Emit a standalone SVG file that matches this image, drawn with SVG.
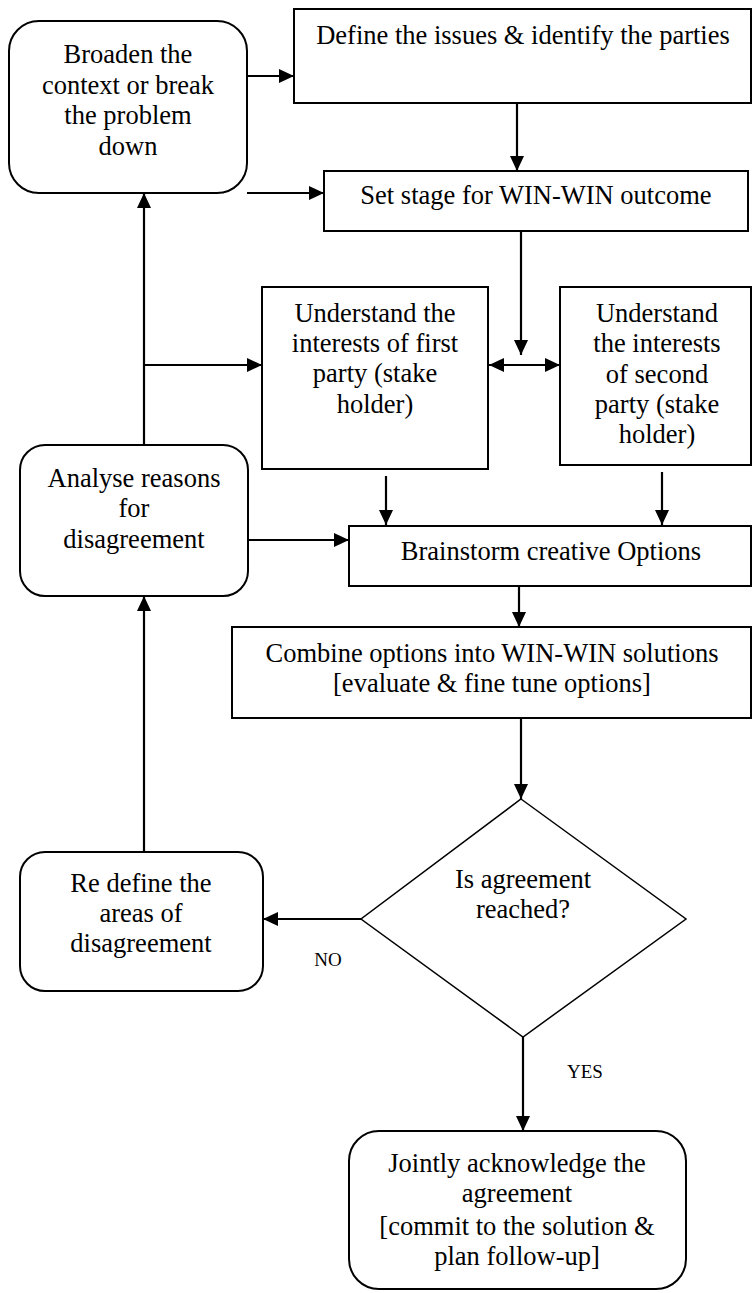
<svg xmlns="http://www.w3.org/2000/svg" width="753" height="1293" viewBox="0 0 753 1293">
<style>
.box{fill:#fff;stroke:#000;stroke-width:2}
.dia{fill:#fff;stroke:#000;stroke-width:1.5}
.t{font-family:"Liberation Serif","Times New Roman",serif;font-size:26.5px;fill:#000;text-anchor:middle}
.lbl{font-family:"Liberation Serif","Times New Roman",serif;font-size:19px;fill:#000;text-anchor:middle}
.c{fill:none;stroke:#000;stroke-width:2.2}
</style>
<defs>
<marker id="ah" markerUnits="userSpaceOnUse" markerWidth="15" markerHeight="14" refX="15" refY="7" orient="auto-start-reverse">
<path d="M0,0 L15,7 L0,14 z" fill="#000"/>
</marker>
</defs>
<rect width="753" height="1293" fill="#fff"/>
<g id="connectors">
<line class="c" x1="247" y1="76" x2="294" y2="76" marker-end="url(#ah)"/>
<line class="c" x1="247" y1="193" x2="324" y2="193" marker-end="url(#ah)"/>
<line class="c" x1="517" y1="103" x2="517" y2="171" marker-end="url(#ah)"/>
<line class="c" x1="521" y1="231" x2="521" y2="355" marker-end="url(#ah)"/>
<line class="c" x1="489" y1="365" x2="560" y2="365" marker-start="url(#ah)" marker-end="url(#ah)"/>
<line class="c" x1="144" y1="445" x2="144" y2="193" marker-end="url(#ah)"/>
<line class="c" x1="144" y1="365" x2="262" y2="365" marker-end="url(#ah)"/>
<line class="c" x1="386" y1="476" x2="386" y2="525" marker-end="url(#ah)"/>
<line class="c" x1="662" y1="472" x2="662" y2="525" marker-end="url(#ah)"/>
<line class="c" x1="248" y1="540" x2="349" y2="540" marker-end="url(#ah)"/>
<line class="c" x1="519" y1="587" x2="519" y2="627" marker-end="url(#ah)"/>
<line class="c" x1="521" y1="718" x2="521" y2="799" marker-end="url(#ah)"/>
<line class="c" x1="361" y1="919" x2="263" y2="919" marker-end="url(#ah)"/>
<line class="c" x1="144" y1="852" x2="144" y2="596" marker-end="url(#ah)"/>
<line class="c" x1="523" y1="1037" x2="523" y2="1131" marker-end="url(#ah)"/>
<text class="lbl" x="328" y="966">NO</text>
<text class="lbl" x="585" y="1078">YES</text>
</g>
<g id="broaden">
<rect class="box" x="9" y="21" width="238" height="172" rx="30"/>
<text class="t" x="128" y="63">Broaden the</text>
<text class="t" x="128" y="94">context or break</text>
<text class="t" x="128" y="124">the problem</text>
<text class="t" x="128" y="155">down</text>
</g>
<g id="define">
<rect class="box" x="294" y="9" width="457" height="94"/>
<text class="t" x="523" y="44">Define the issues &amp; identify the parties</text>
</g>
<g id="setstage">
<rect class="box" x="324" y="171" width="424" height="60"/>
<text class="t" x="536" y="204">Set stage for WIN-WIN outcome</text>
</g>
<g id="firstparty">
<rect class="box" x="262" y="287" width="226" height="182"/>
<text class="t" x="375" y="322">Understand the</text>
<text class="t" x="375" y="352">interests of first</text>
<text class="t" x="375" y="382">party (stake</text>
<text class="t" x="375" y="413">holder)</text>
</g>
<g id="secondparty">
<rect class="box" x="560" y="287" width="191" height="178"/>
<text class="t" x="657" y="322">Understand</text>
<text class="t" x="657" y="352">the interests</text>
<text class="t" x="657" y="383">of second</text>
<text class="t" x="657" y="413">party (stake</text>
<text class="t" x="657" y="443">holder)</text>
</g>
<g id="analyse">
<rect class="box" x="20" y="445" width="228" height="151" rx="25"/>
<text class="t" x="134" y="487">Analyse reasons</text>
<text class="t" x="134" y="517">for</text>
<text class="t" x="134" y="548">disagreement</text>
</g>
<g id="brainstorm">
<rect class="box" x="349" y="526" width="402" height="60"/>
<text class="t" x="551" y="560">Brainstorm creative Options</text>
</g>
<g id="combine">
<rect class="box" x="232" y="627" width="519" height="91"/>
<text class="t" x="492" y="662">Combine options into WIN-WIN solutions</text>
<text class="t" x="492" y="692">[evaluate &amp; fine tune options]</text>
</g>
<g id="decision">
<polygon class="dia" points="521,799 686,919 523,1037 361,919"/>
<text class="t" x="523" y="888">Is agreement</text>
<text class="t" x="523" y="918">reached?</text>
</g>
<g id="redefine">
<rect class="box" x="20" y="852" width="243" height="139" rx="25"/>
<text class="t" x="141" y="892">Re define the</text>
<text class="t" x="141" y="922">areas of</text>
<text class="t" x="141" y="952">disagreement</text>
</g>
<g id="jointly">
<rect class="box" x="349" y="1131" width="337" height="158" rx="30"/>
<text class="t" x="517" y="1172">Jointly acknowledge the</text>
<text class="t" x="517" y="1202">agreement</text>
<text class="t" x="517" y="1235">[commit to the solution &amp;</text>
<text class="t" x="517" y="1265">plan follow-up]</text>
</g>
</svg>
